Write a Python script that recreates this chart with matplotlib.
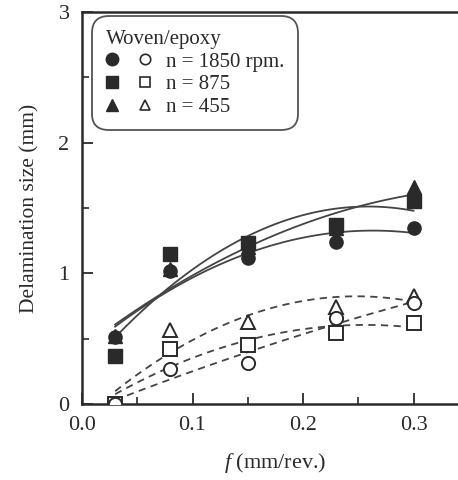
import numpy as np
import matplotlib
matplotlib.use("Agg")
import matplotlib.pyplot as plt
from matplotlib.legend_handler import HandlerTuple
from matplotlib.lines import Line2D
from matplotlib.ticker import MultipleLocator

plt.rcParams['font.family'] = ['Liberation Serif', 'DejaVu Serif']
plt.rcParams['mathtext.fontset'] = 'custom'
plt.rcParams['mathtext.it'] = 'Liberation Serif:italic'
plt.rcParams['mathtext.rm'] = 'Liberation Serif'

feed = [0.03, 0.08, 0.15, 0.23, 0.30]
# filled = solid curves, open = dashed curves
filled_1850 = [0.51, 1.02, 1.12, 1.24, 1.35]
filled_875 = [0.37, 1.15, 1.23, 1.37, 1.55]
filled_455 = [0.52, 1.03, 1.20, 1.35, 1.66]
open_1850 = [0.00, 0.27, 0.31, 0.66, 0.77]
open_875 = [0.00, 0.42, 0.45, 0.54, 0.62]
open_455 = [0.00, 0.57, 0.63, 0.74, 0.83]
labels = ['n = 1850 rpm.', 'n = 875', 'n = 455']
markers = ['o', 's', '^']

ink = '#2a2a2a'
fig = plt.figure(figsize=(4.58, 4.80), dpi=100)
ax = fig.add_axes([82/458, 1-404/480, (0.35*1105)/458, (404-12)/480])
ax.set_xlim(0, 0.35)
ax.set_ylim(0, 3)

x = np.array(feed)
xs = np.linspace(0.03, 0.30, 100)
handles = []
zorders = {'o': 4, 's': 3.5, '^': 3}
for fvals, ovals, m, lab in zip([filled_1850, filled_875, filled_455],
                                 [open_1850, open_875, open_455], markers, labels):
    pf = np.polyfit(x, fvals, 2)
    po = np.polyfit(x, ovals, 2)
    ax.plot(xs, np.polyval(pf, xs), '-', color='#444444', lw=1.3, zorder=2)
    ax.plot(xs, np.polyval(po, xs), '--', color='#444444', lw=1.3, dashes=(4, 3), zorder=2)
    ms = 9.5
    ax.plot(x, fvals, m, ms=ms, color=ink, mec=ink, zorder=zorders[m], ls='none')
    ax.plot(x, ovals, m, ms=ms, mfc='white', mec=ink, mew=1.4, zorder=zorders[m], ls='none')
    handles.append((Line2D([], [], marker=m, ms=9, color=ink, ls='none'),
                    Line2D([], [], marker=m, ms=7.5, mfc='white', mec=ink, mew=1.2, ls='none')))

ax.spines['right'].set_visible(False)
for s in ['left', 'bottom', 'top']:
    ax.spines[s].set_linewidth(1.8)
    ax.spines[s].set_color(ink)

ax.xaxis.set_major_locator(MultipleLocator(0.1))
ax.xaxis.set_minor_locator(MultipleLocator(0.05))
ax.yaxis.set_major_locator(MultipleLocator(1))
ax.yaxis.set_minor_locator(MultipleLocator(0.5))
ax.xaxis.set_major_formatter(matplotlib.ticker.FormatStrFormatter('%.1f'))
ax.tick_params(which='major', direction='in', length=8, width=1.3, color=ink,
               labelsize=16, labelcolor=ink, top=False, right=False, pad=9)
ax.tick_params(which='minor', direction='in', length=5, width=1.2, color=ink,
               top=False, right=False)

ax.set_ylabel('Delamination size (mm)', fontsize=15.5, color=ink)
ax.yaxis.set_label_coords(-0.11, 0.5)
ax.set_xlabel(r'$\mathit{f}$' + ' (mm/rev.)', fontsize=16, color=ink)
ax.xaxis.set_label_coords(0.5, -0.12)

leg = ax.legend(handles, labels, handler_map={tuple: HandlerTuple(ndivide=None, pad=0.9)},
                title='Woven/epoxy', loc='upper left', bbox_to_anchor=(0.01, 1.005),
                fontsize=15, title_fontsize=15, alignment='left', frameon=True,
                fancybox=True, edgecolor=ink, handlelength=2.2, handletextpad=0.7,
                labelspacing=0.15, borderpad=0.45, labelcolor=ink)
leg.get_frame().set_linewidth(1.3)
leg.get_frame().set_boxstyle('round,pad=0.2,rounding_size=0.8')
leg.get_title().set_color(ink)

fig.savefig('out.png', dpi=100)
